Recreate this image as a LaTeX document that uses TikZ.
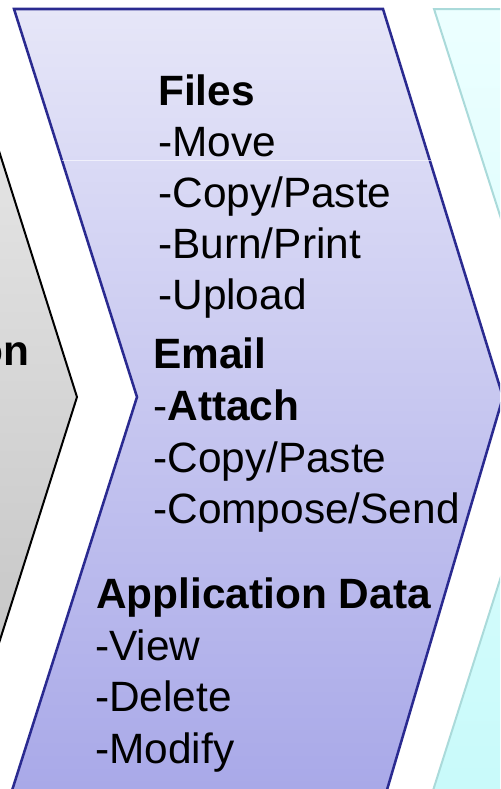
\documentclass[tikz,border=0pt]{standalone}
\usepackage{fontspec}
\setmainfont{Liberation Sans}
\begin{document}
\begin{tikzpicture}[x=0.75pt,y=-0.75pt,
  itemtext/.style={anchor=base west,inner sep=0pt,font=\fontsize{31.8pt}{38pt}\selectfont},
  headtext/.style={itemtext,font=\fontsize{31.8pt}{38pt}\selectfont\bfseries},
  grayshape/.style={top color=gray!15,bottom color=gray!50,draw=black,line width=1.5pt,line join=miter},
  purpleshape/.style={top color={rgb,255:red,230;green,230;blue,248},bottom color={rgb,255:red,168;green,168;blue,232},draw={rgb,255:red,42;green,42;blue,144},line width=1.9pt,line join=miter},
  cyanshape/.style={top color={rgb,255:red,236;green,255;blue,255},bottom color={rgb,255:red,200;green,250;blue,250},draw={rgb,255:red,170;green,218;blue,218},line width=1.5pt,line join=miter}]
\useasboundingbox (0,0) rectangle (500,789);
\clip (0,0) rectangle (500,789);
% cyan chevron (right)
\path[cyanshape] (434,9) -- (900,9) -- (900,800) -- (430,800) -- (558,397) -- cycle;
% gray chevron (left)
\path[grayshape] (-200,9) -- (-46,9) -- (77,397) -- (-46,785) -- (-200,785) -- cycle;
% purple chevron (middle)
\path[purpleshape] (14,9) -- (383,9) -- (503,397) -- (384,800) -- (9,800) -- (137,397) -- cycle;
\draw[white,opacity=0.6,line width=0.75pt] (62,160) -- (431,160);
% left text
\node[headtext,anchor=base east] (lefton) at (30,365) {on};
% Files group
\node[headtext] (files) at (158,105) {Files};
\node[itemtext] (move) at (158,156) {-Move};
\node[itemtext] (copy1) at (158,207) {-Copy/Paste};
\node[itemtext] (burn) at (158,258) {-Burn/Print};
\node[itemtext] (upload) at (158,309) {-Upload};
% Email group
\node[headtext] (email) at (153,368) {Email};
\node[itemtext] (attach) at (153,420) {-\textbf{Attach}};
\node[itemtext] (copy2) at (153,472) {-Copy/Paste};
\node[itemtext] (compose) at (153,523) {-Compose/Send};
% Application data group
\node[headtext] (appdata) at (96,608) {Application Data};
\node[itemtext] (view) at (95,660) {-View};
\node[itemtext] (delete) at (95,711) {-Delete};
\node[itemtext] (modify) at (95,763) {-Modify};
\end{tikzpicture}
\end{document}
